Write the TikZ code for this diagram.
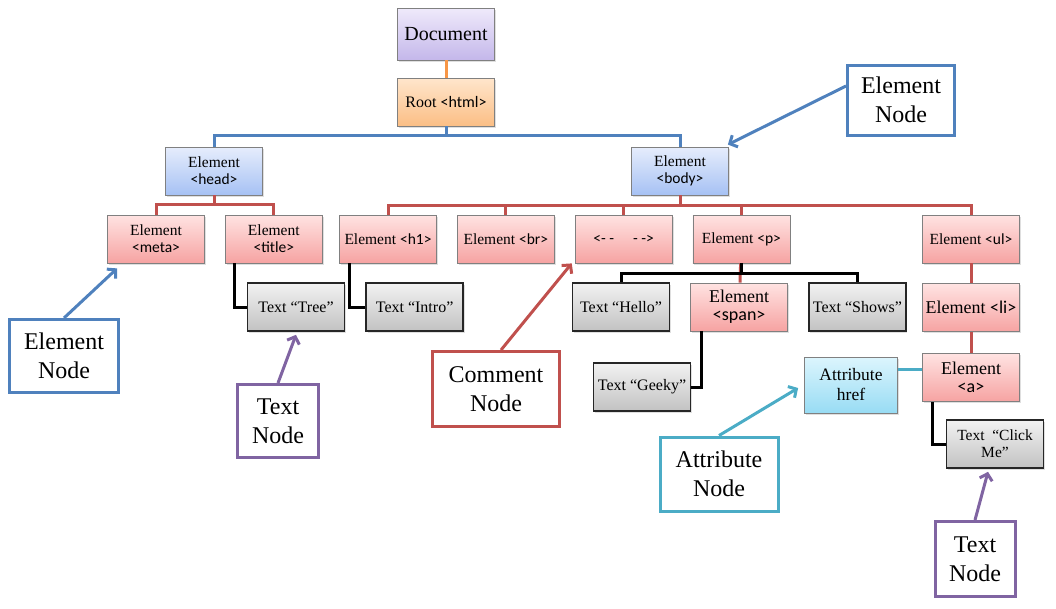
\documentclass[tikz,border=0pt]{standalone}
\usepackage{fontspec}
\setmainfont{Liberation Serif}
\newfontfamily\tagfont{Carlito}
\newcommand{\tg}[1]{{\tagfont #1}}
\usetikzlibrary{positioning,shadows,arrows.meta}

\definecolor{blueln}{HTML}{4F81BD}
\definecolor{redln}{HTML}{C0504D}
\definecolor{orangeln}{HTML}{F79646}
\definecolor{purpln}{HTML}{8064A2}
\definecolor{tealln}{HTML}{4BACC6}
\definecolor{boxedge}{HTML}{808080}
\definecolor{bluetop}{HTML}{E6EDFC}
\definecolor{bluebot}{HTML}{A6C1F4}
\definecolor{redtop}{HTML}{FFE3E2}
\definecolor{redbot}{HTML}{F6A3A2}
\definecolor{graytop}{HTML}{F2F2F2}
\definecolor{graybot}{HTML}{C2C2C2}
\definecolor{tealtop}{HTML}{DCF5FD}
\definecolor{tealbot}{HTML}{98DCF4}
\definecolor{purptop}{HTML}{EFEAFB}
\definecolor{purpbot}{HTML}{C4B7EA}
\definecolor{orangetop}{HTML}{FFE6CC}
\definecolor{orangebot}{HTML}{FBBE85}

\begin{document}
\begin{tikzpicture}[x=1pt,y=-1pt,
block/.style={draw=boxedge,line width=0.8pt,rectangle,minimum width=97pt,minimum height=48pt,inner sep=2pt,align=center,
  font=\fontsize{15.5}{17}\selectfont,drop shadow={shadow xshift=1.5pt,shadow yshift=-1.5pt,opacity=0.25}},
docbox/.style={block,top color=purptop,bottom color=purpbot,minimum height=52pt,font=\fontsize{20}{24}\selectfont},
rootbox/.style={block,top color=orangetop,bottom color=orangebot,font=\fontsize{16}{18}\selectfont},
headbox/.style={block,top color=bluetop,bottom color=bluebot},
elbox/.style={block,top color=redtop,bottom color=redbot},
bigel/.style={elbox,font=\fontsize{18}{18}\selectfont},
textbox/.style={block,draw=black!85,line width=1.6pt,top color=graytop,bottom color=graybot,font=\fontsize{16}{17}\selectfont},
attrbox/.style={block,top color=tealtop,bottom color=tealbot,minimum width=93pt,minimum height=56pt,font=\fontsize{17.5}{20}\selectfont},
callout/.style={draw,line width=3pt,fill=white,align=center,inner sep=2pt,font=\fontsize{24}{29}\selectfont},
callarrow/.style={line width=3pt,-{Straight Barb[length=6pt,width=13pt]}},
conn/.style={line width=3pt}]

        \useasboundingbox (0,0) rectangle (1056,608);

        \node [docbox] (doc) at (446,34) {Document};
        \node [rootbox] (root) at (446,102) {Root \tg{<html>}};
        \node [headbox] (head) at (214,171) {Element\\\tg{<head>}};
        \node [headbox] (body) at (680,171) {Element\\\tg{<body>}};
        \node [elbox] (meta) at (156,239) {Element\\\tg{<meta>}};
        \node [elbox, right = 20pt of meta] (title) {Element\\\tg{<title>}};
        \node [elbox] (h1) at (388,239) {Element \tg{<h1>}};
        \node [elbox, right = 20pt of h1] (br) {Element \tg{<br>}};
        \node [elbox, right = 20pt of br] (cmt) {\tg{<- -\quad\ - ->}};
        \node [elbox, right = 20pt of cmt] (p) {Element \tg{<p>}};
        \node [elbox] (ul) at (971,239) {Element \tg{<ul>}};
        \node [textbox] (tree) at (296,307) {Text “Tree”};
        \node [textbox, right = 20pt of tree] (intro) {Text “Intro”};
        \node [textbox] (hello) at (621,307) {Text “Hello”};
        \node [bigel, right = 20pt of hello] (span) {Element\\\tg{<span>}};
        \node [textbox, right = 20pt of span] (shows) {Text “Shows”};
        \node [bigel, below = 20pt of ul] (li) {Element \tg{<li>}};
        \node [bigel, below = 21pt of li] (a) {Element\\\tg{<a>}};
        \node [textbox] (geeky) at (642,387) {Text “Geeky”};
        \node [attrbox] (href) at (851,385) {Attribute\\href};
        \node [textbox, font=\fontsize{15.5}{17}\selectfont] (click) at (995,444) {Text \ “Click\\Me”};

        \draw [conn, orangeln] (doc) -- (root);
        \foreach \c in {head,body} \draw [conn, blueln] (root.south) -- ++(0,9) -| (\c.north);
        \foreach \c in {meta,title} \draw [conn, redln] (head.south) -- ++(0,9) -| (\c.north);
        \foreach \c in {h1,br,cmt,p,ul} \draw [conn, redln] (body.south) -- ++(0,10) -| (\c.north);
        \draw [conn, redln] (p) -- (span);
        \draw [conn, redln] (ul) -- (li);
        \draw [conn, redln] (li) -- (a);
        \foreach \c in {hello,shows} \draw [conn, black] (p.south) -- ++(0,10) -| (\c.north);
        \draw [conn, black] ([xshift=10pt]title.south west) |- (tree.west);
        \draw [conn, black] ([xshift=10pt]h1.south west) |- (intro.west);
        \draw [conn, black] ([xshift=11pt]span.south west) |- (geeky.east);
        \draw [conn, black] ([xshift=10pt]a.south west) |- (click.west);
        \coordinate (atap) at ([yshift=8pt]a.west);
        \draw [conn, tealln] (atap) -- (atap -| href.east);

        \node [callout, draw=blueln, minimum width=107pt, minimum height=70pt] (elR) at (901,100) {Element\\Node};
        \node [callout, draw=blueln, minimum width=109pt, minimum height=73pt] (elL) at (64,356) {Element\\Node};
        \node [callout, draw=purpln, minimum width=81pt, minimum height=73pt] (txL) at (278,421) {Text\\Node};
        \node [callout, draw=redln, minimum width=127pt, minimum height=75pt] (cmN) at (496,389) {Comment\\Node};
        \node [callout, draw=tealln, minimum width=118pt, minimum height=74pt] (atN) at (719,474) {Attribute\\Node};
        \node [callout, draw=purpln, minimum width=80pt, minimum height=75pt] (txR) at (975,559) {Text\\Node};

        \draw [callarrow, blueln] ([yshift=14pt]elR.west) -- ([shift={(-1pt,2pt)}]body.north east);
        \draw [callarrow, blueln] (elL.north) -- ([shift={(10pt,-5pt)}]meta.south west);
        \draw [callarrow, purpln] (txL.north) -- ([yshift=-3pt]tree.south);
        \draw [callarrow, redln] ([xshift=5pt]cmN.north) -- ([xshift=-3pt]cmt.south west);
        \draw [callarrow, tealln] (atN.north) -- ([shift={(-6pt,-3pt)}]href.west);
        \draw [callarrow, purpln] (txR.north) -- ([shift={(-7pt,-3pt)}]click.south);
    \end{tikzpicture}
\end{document}
